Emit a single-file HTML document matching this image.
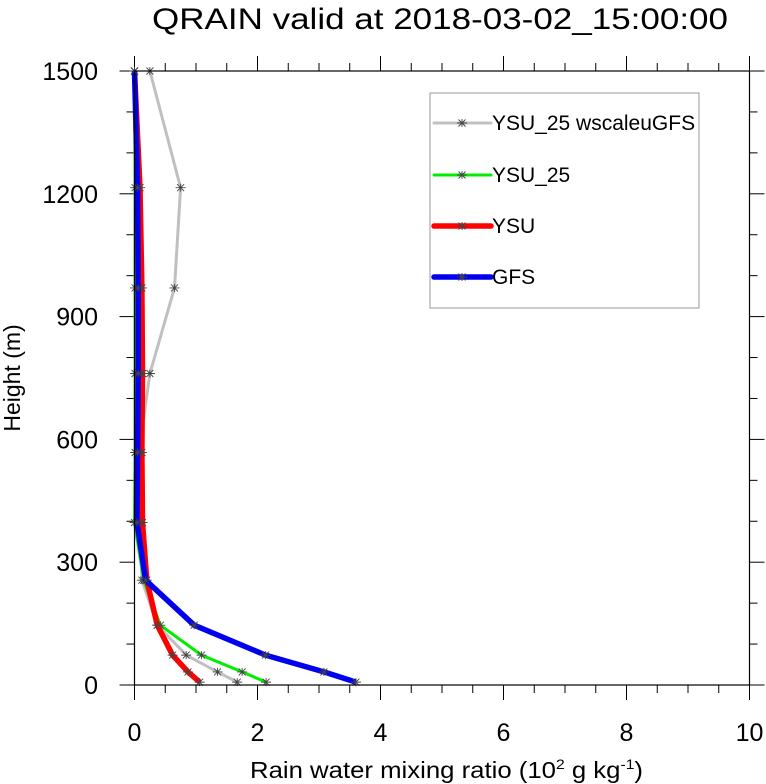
<!DOCTYPE html>
<html><head><meta charset="utf-8"><style>
html,body{margin:0;padding:0;background:#fff;}
svg{display:block;font-family:"Liberation Sans",Arial,sans-serif;}
</style></head><body>
<svg id="chart" width="766" height="784" viewBox="0 0 766 784" xmlns="http://www.w3.org/2000/svg">
<text x="152" y="29" font-size="30" textLength="576" lengthAdjust="spacingAndGlyphs">QRAIN valid at 2018-03-02_15:00:00</text>
<g id="ticks"></g>
<g id="series"></g>
<rect x="134.5" y="71" width="615" height="614" fill="none" stroke="#000" stroke-width="1.2"/>
<text transform="translate(20,378) rotate(-90)" font-size="23" text-anchor="middle">Height (m)</text>
<text x="250" y="778" font-size="23" textLength="393" lengthAdjust="spacingAndGlyphs">Rain water mixing ratio (10<tspan font-size="14" dy="-9">2</tspan><tspan dy="9"> g kg</tspan><tspan font-size="14" dy="-9">-1</tspan><tspan dy="9">)</tspan></text>
<g id="legend">
<rect x="430" y="93" width="269" height="215" fill="#fff" stroke="#999" stroke-width="1"/>
</g>
</svg>
<script>
const heights = [1500, 1215, 970, 761, 568, 397, 256, 146, 73, 32, 7];
const gfsValues = [0.0, 0.05, 0.06, 0.06, 0.05, 0.04, 0.18, 0.97, 2.13, 3.08, 3.6];
const ysuValues = [0.0, 0.09, 0.12, 0.13, 0.12, 0.13, 0.2, 0.37, 0.62, 0.87, 1.06];
const ysu25Values = [0.0, 0.01, 0.01, 0.01, 0.01, 0.0, 0.15, 0.42, 1.09, 1.75, 2.14];
const wscaleValues = [0.25, 0.75, 0.65, 0.25, 0.07, 0.1, 0.12, 0.37, 0.84, 1.35, 1.67];
const xTickLabels = ["0", "2", "4", "6", "8", "10"];
const yTickLabels = ["0", "300", "600", "900", "1200", "1500"];

const NS = "http://www.w3.org/2000/svg";
const X0 = 134.5, X1 = 749.5, Y0 = 685, Y1 = 71;
function xScale(v){ return X0 + (v / 10) * (X1 - X0); }
function yScale(h){ return Y0 - (h / 1500) * (Y0 - Y1); }
function mk(tag, attrs, parent){ const e = document.createElementNS(NS, tag); for (const k in attrs) e.setAttribute(k, attrs[k]); parent.appendChild(e); return e; }

const ticks = document.getElementById('ticks');
for (let i = 0; i <= 20; i++) {
  const v = i * 0.5, x = xScale(v), major = i % 4 === 0;
  const len = major ? 15 : 8;
  const b = mk('line', {x1: x, y1: Y0, x2: x, y2: Y0 + len, stroke: '#000', 'stroke-width': 1}, ticks);
  
  
  const t = mk('line', {x1: x, y1: Y1, x2: x, y2: Y1 - len, stroke: '#000', 'stroke-width': 1}, ticks);
  
  
}
xTickLabels.forEach(function(lab){
  const tx = mk('text', {x: xScale(parseFloat(lab)), y: 741, 'font-size': 25, 'text-anchor': 'middle'}, ticks);
  tx.textContent = lab;
  
  
});
for (let i = 0; i <= 15; i++) {
  const h = i * 100, y = yScale(h), major = i % 3 === 0;
  const len = major ? 15 : 8;
  const l = mk('line', {x1: X0, y1: y, x2: X0 - len, y2: y, stroke: '#000', 'stroke-width': 1}, ticks);
  
  
  const r = mk('line', {x1: X1, y1: y, x2: X1 + len, y2: y, stroke: '#000', 'stroke-width': 1}, ticks);
  
  
}
yTickLabels.forEach(function(lab){
  const ty = mk('text', {x: 98, y: yScale(parseFloat(lab)) + 9, 'font-size': 25, 'text-anchor': 'end'}, ticks);
  ty.textContent = lab;
  
  
});

function star(g, x, y, name){
  const s = mk('path', {d: `M${x-5},${y}H${x+5}M${x-3.5},${y-3.5}L${x+3.5},${y+3.5}M${x-3.5},${y+3.5}L${x+3.5},${y-3.5}M${x},${y-4}V${y+4}`, stroke: '#444', 'stroke-width': 0.9, fill: 'none'}, g);
  
  
}

const seriesList = [
  {name: 'ysu25-wscaleugfs', label: 'YSU_25 wscaleuGFS', vals: wscaleValues, color: '#c0c0c0', w: 3},
  {name: 'ysu25', label: 'YSU_25', vals: ysu25Values, color: '#00ee00', w: 3},
  {name: 'ysu', label: 'YSU', vals: ysuValues, color: '#ff0000', w: 5.5},
  {name: 'gfs', label: 'GFS', vals: gfsValues, color: '#0000ee', w: 5.5}
];
const sg = document.getElementById('series');
const lg = document.getElementById('legend');
const legendY = [123, 175, 226, 277];
seriesList.forEach(function(s, i){
  const g = mk('g', {}, sg);
  
  
  const pts = s.vals.map(function(v, j){ return xScale(v).toFixed(1) + ',' + yScale(heights[j]).toFixed(1); }).join(' ');
  const pl = mk('polyline', {points: pts, fill: 'none', stroke: s.color, 'stroke-width': s.w, 'stroke-linejoin': 'round'}, g);
  
  
  s.vals.forEach(function(v, j){ star(g, xScale(v), yScale(heights[j]), 'marker-' + s.name); });
  const ly = legendY[i];
  const lgEntry = mk('g', {}, lg);
  
  
  const ll = mk('line', {x1: 434, y1: ly, x2: 491, y2: ly, stroke: s.color, 'stroke-width': s.w, 'stroke-linecap': 'round'}, lgEntry);
  
  
  star(lgEntry, 462, ly, 'legend-marker');
  const lt = mk('text', {x: 492, y: ly + 7, 'font-size': 21}, lgEntry);
  lt.textContent = s.label;
  
  
});
</script>
</body></html>
